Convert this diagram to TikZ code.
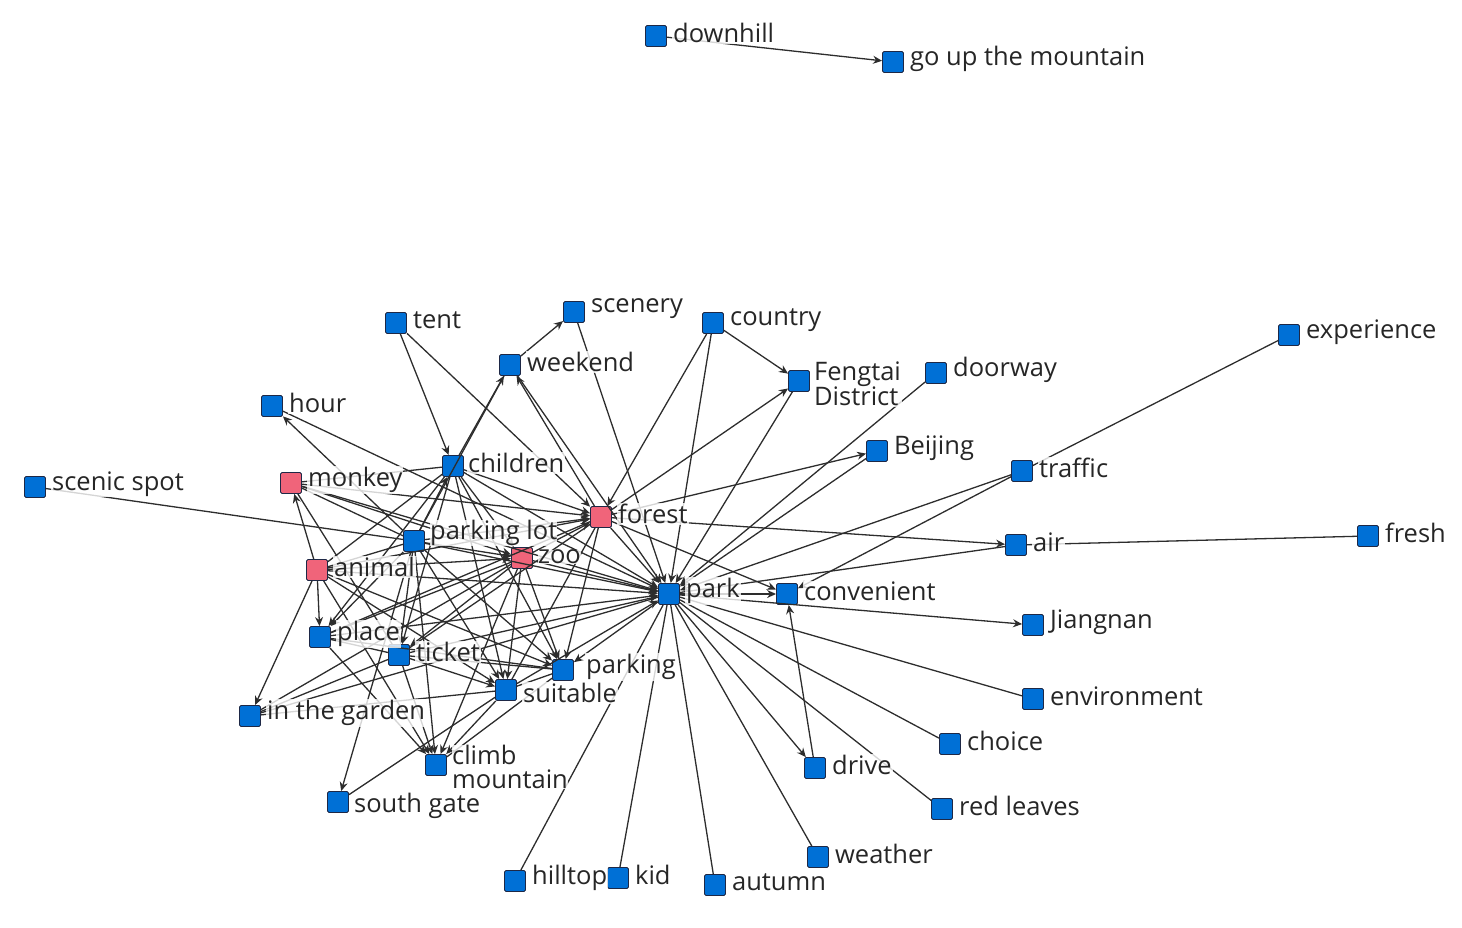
\documentclass[tikz,border=0pt]{standalone}
\usepackage{fontspec}
\setmainfont{Open Sans}
\usetikzlibrary{arrows.meta}
\definecolor{nblue}{RGB}{0,112,214}
\definecolor{npink}{RGB}{240,100,122}
\definecolor{nedge}{RGB}{30,40,70}
\definecolor{lcol}{RGB}{45,45,45}
\begin{document}
\begin{tikzpicture}[x=1pt,y=-1pt,
  bn/.style={draw=nedge,line width=0.9pt,fill=nblue,minimum size=21pt,inner sep=0pt,rounded corners=1.5pt},
  pn/.style={bn,fill=npink},
  lab/.style={anchor=west,xshift=5pt,yshift=3pt,inner sep=1pt,fill=white,fill opacity=0.8,text opacity=1,text=black!85,font=\fontsize{25.5}{24}\selectfont,align=left},
  ed/.style={draw=lcol,line width=1.3pt},
  ea/.style={ed,-{Stealth[length=9pt,width=8pt]}}]
\useasboundingbox (0,0) rectangle (1462,928);
% nodes
\node[bn] (dh) at (656,36) {};
\node[bn] (gu) at (893,62) {};
\node[bn] (tent) at (396,323) {};
\node[bn] (scen) at (574,312) {};
\node[bn] (ctry) at (713,323) {};
\node[bn] (wk) at (510,365) {};
\node[bn] (feng) at (799,381) {};
\node[bn] (door) at (936,373) {};
\node[bn] (exp) at (1289,335) {};
\node[bn] (hour) at (272,406) {};
\node[bn] (bj) at (877,451) {};
\node[bn] (chil) at (453,466) {};
\node[bn] (traf) at (1022,471) {};
\node[bn] (ss) at (35,487) {};
\node[pn] (monk) at (291,483) {};
\node[pn] (forest) at (601,517) {};
\node[bn] (plot) at (414,541) {};
\node[pn] (zoo) at (522,558) {};
\node[bn] (air) at (1016,545) {};
\node[bn] (fresh) at (1368,536) {};
\node[pn] (anim) at (317,570) {};
\node[bn] (park) at (669,594) {};
\node[bn] (conv) at (787,594) {};
\node[bn] (jn) at (1033,625) {};
\node[bn] (place) at (320,637) {};
\node[bn] (tick) at (399,655) {};
\node[bn] (pkg) at (563,670) {};
\node[bn] (suit) at (506,690) {};
\node[bn] (garden) at (250,716) {};
\node[bn] (env) at (1033,699) {};
\node[bn] (choice) at (950,744) {};
\node[bn] (climb) at (436,765) {};
\node[bn] (drive) at (815,768) {};
\node[bn] (sg) at (338,802) {};
\node[bn] (red) at (942,809) {};
\node[bn] (weather) at (818,857) {};
\node[bn] (hill) at (515,881) {};
\node[bn] (kid) at (618,878) {};
\node[bn] (aut) at (715,885) {};
% plain edges
\foreach \a/\b in {traf/exp,air/fresh,park/air,park/env,park/choice,park/red,park/weather,park/aut,park/kid,park/hill,
  ss/plot,wk/plot,suit/sg,garden/park,garden/tick,garden/zoo,pkg/suit,place/pkg,tick/pkg,monk/chil,monk/plot,
  place/tick,chil/anim,anim/plot,place/zoo,tick/forest,monk/tick,place/forest,suit/forest,climb/pkg,garden/suit}
  \draw[ed] (\a) -- (\b);
% arrow edges
\foreach \a/\b in {dh/gu,wk/scen,scen/park,tent/chil,tent/forest,ctry/feng,ctry/forest,ctry/park,forest/feng,feng/park,
  door/park,forest/bj,bj/park,traf/park,traf/conv,forest/air,park/jn,park/drive,drive/conv,plot/hour,hour/park,
  chil/wk,forest/wk,wk/park,plot/forest,zoo/forest,anim/forest,chil/forest,monk/forest,plot/zoo,anim/zoo,chil/zoo,
  anim/monk,anim/place,anim/garden,plot/sg,forest/park,zoo/park,plot/park,chil/park,anim/park,monk/park,place/park,
  tick/park,suit/park,park/pkg,zoo/suit,plot/suit,chil/suit,anim/suit,tick/suit,zoo/pkg,chil/pkg,plot/pkg,anim/pkg,
  forest/pkg,place/climb,tick/climb,plot/climb,suit/climb,anim/climb,forest/conv,park/conv,plot/tick,chil/tick,zoo/tick,
  chil/place,plot/place,plot/chil,zoo/climb,monk/zoo}
  \draw[ea] (\a) -- (\b);
% labels
\node[lab] at (dh.east) {downhill};
\node[lab] at (gu.east) {go up the mountain};
\node[lab] at (tent.east) {tent};
\node[lab] at (scen.east) {scenery};
\node[lab] at (ctry.east) {country};
\node[lab] at (wk.east) {weekend};
\node[lab,font=\fontsize{25.5}{25}\selectfont] at ([yshift=-6pt,xshift=-2pt]feng.east) {Fengtai\\District};
\node[lab] at (door.east) {doorway};
\node[lab] at (exp.east) {experience};
\node[lab] at (hour.east) {hour};
\node[lab] at (bj.east) {Beijing};
\node[lab] at ([xshift=-2pt]chil.east) {children};
\node[lab] at (traf.east) {traffic};
\node[lab] at (ss.east) {scenic spot};
\node[lab] at (monk.east) {monkey};
\node[lab] at (forest.east) {forest};
\node[lab,inner sep=0pt] at ([yshift=5pt]plot.east) {parking lot};
\node[lab,inner sep=0pt] at ([yshift=-2pt]zoo.east) {zoo};
\node[lab] at (air.east) {air};
\node[lab] at (fresh.east) {fresh};
\node[lab] at (anim.east) {animal};
\node[lab] at (park.east) {park};
\node[lab] at (conv.east) {convenient};
\node[lab] at (jn.east) {Jiangnan};
\node[lab] at (place.east) {place};
\node[lab] at (tick.east) {ticket};
\node[lab] at ([xshift=6pt]pkg.east) {parking};
\node[lab] at ([yshift=-6pt]suit.east) {suitable};
\node[lab] at (garden.east) {in the garden};
\node[lab] at (env.east) {environment};
\node[lab] at (choice.east) {choice};
\node[lab,inner sep=0pt,font=\fontsize{25.5}{24}\selectfont] at ([yshift=-5pt]climb.east) {climb\\mountain};
\node[lab] at (drive.east) {drive};
\node[lab,inner sep=0pt] at ([yshift=-7pt]sg.east) {south gate};
\node[lab] at (red.east) {red leaves};
\node[lab] at (weather.east) {weather};
\node[lab] at (hill.east) {hilltop};
\node[lab] at (kid.east) {kid};
\node[lab] at (aut.east) {autumn};
\end{tikzpicture}
\end{document}
